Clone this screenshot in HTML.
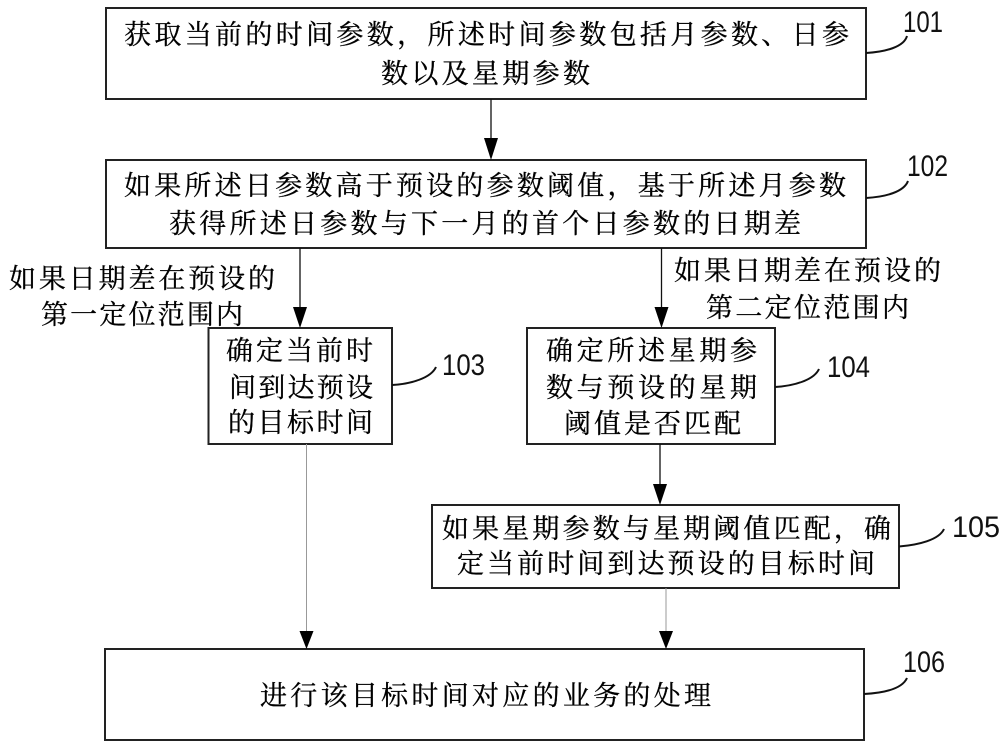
<!DOCTYPE html>
<html><head><meta charset="utf-8"><style>
html,body{margin:0;padding:0;background:#fff}
svg{display:block}
.c{font-family:"Noto Serif CJK SC","Noto Serif CJK TC","Noto Serif CJK JP",serif;font-size:27px;fill:#000;stroke:#000;stroke-width:.3}
.n{font-family:"Liberation Sans",sans-serif;font-size:30px;fill:#111}
</style></head><body>
<svg width="1000" height="748" viewBox="0 0 1000 748" xmlns="http://www.w3.org/2000/svg">
<g fill="#fff" stroke="#222" stroke-width="2">
<rect x="106" y="8" width="760" height="91"/>
<rect x="106" y="160" width="760" height="88"/>
<rect x="208.500" y="328" width="183.500" height="116"/>
<rect x="527" y="328" width="248" height="116"/>
<rect x="432" y="505" width="467" height="83"/>
<rect x="105" y="649" width="759" height="91"/>
</g>
<g stroke="#111" stroke-width="1.3" fill="none">
<path d="M491 99V140"/><path d="M300 248V309"/><path d="M661.500 248V309"/><path d="M660 444V486"/>
</g>
<g stroke="#999" stroke-width="1" fill="none">
<path d="M306.500 444V633"/><path d="M666 588V633"/>
</g>
<g fill="#000">
<path d="M484 138H498L491 160Z"/><path d="M293 307H307L300 328Z"/><path d="M654.500 307H668.500L661.500 328Z"/><path d="M653 484H667L660 505Z"/>
<path d="M299.500 631H313.500L306.500 649Z"/><path d="M659 631H673L666 649Z"/>
</g>
<g stroke="#111" stroke-width="2" fill="none">
<path d="M866 53C885 52 904 47 907 36"/>
<path d="M866 198C885 197 904 192 908 181"/>
<path d="M392 385C411 384 431 378 436 367"/>
<path d="M775 387C794 386 814 380 819 369"/>
<path d="M899 546.500C918 545 939 540 944 529"/>
<path d="M864 694C883 693 902 689 907 678"/>
</g>
<g class="c">
<text x="124" y="44" textLength="725">获取当前的时间参数，所述时间参数包括月参数、日参</text>
<text x="381" y="83" textLength="209">数以及星期参数</text>
<text x="124" y="195" textLength="722">如果所述日参数高于预设的参数阈值，基于所述月参数</text>
<text x="169" y="233" textLength="632">获得所述日参数与下一月的首个日参数的日期差</text>
<text x="9" y="288" textLength="266">如果日期差在预设的</text>
<text x="41" y="324" textLength="202">第一定位范围内</text>
<text x="674" y="280" textLength="267">如果日期差在预设的</text>
<text x="706" y="317" textLength="203">第二定位范围内</text>
<text x="226" y="360" textLength="147">确定当前时</text>
<text x="229" y="397" textLength="144">间到达预设</text>
<text x="228" y="432" textLength="145">的目标时间</text>
<text x="546" y="360" textLength="211">确定所述星期参</text>
<text x="546" y="397" textLength="211">数与预设的星期</text>
<text x="564" y="433" textLength="177">阈值是否匹配</text>
<text x="442" y="538" textLength="449">如果星期参数与星期阈值匹配，确</text>
<text x="457" y="573" textLength="418">定当前时间到达预设的目标时间</text>
<text x="260" y="705" textLength="451">进行该目标时间对应的业务的处理</text>
</g>
<g class="n">
<text x="903" y="32" textLength="40" lengthAdjust="spacingAndGlyphs">101</text>
<text x="907" y="176" textLength="41" lengthAdjust="spacingAndGlyphs">102</text>
<text x="442" y="375" textLength="43" lengthAdjust="spacingAndGlyphs">103</text>
<text x="827" y="377" textLength="43" lengthAdjust="spacingAndGlyphs">104</text>
<text x="952" y="537" textLength="48" lengthAdjust="spacingAndGlyphs">105</text>
<text x="903" y="672" textLength="42" lengthAdjust="spacingAndGlyphs">106</text>
</g>
</svg>
</body></html>
